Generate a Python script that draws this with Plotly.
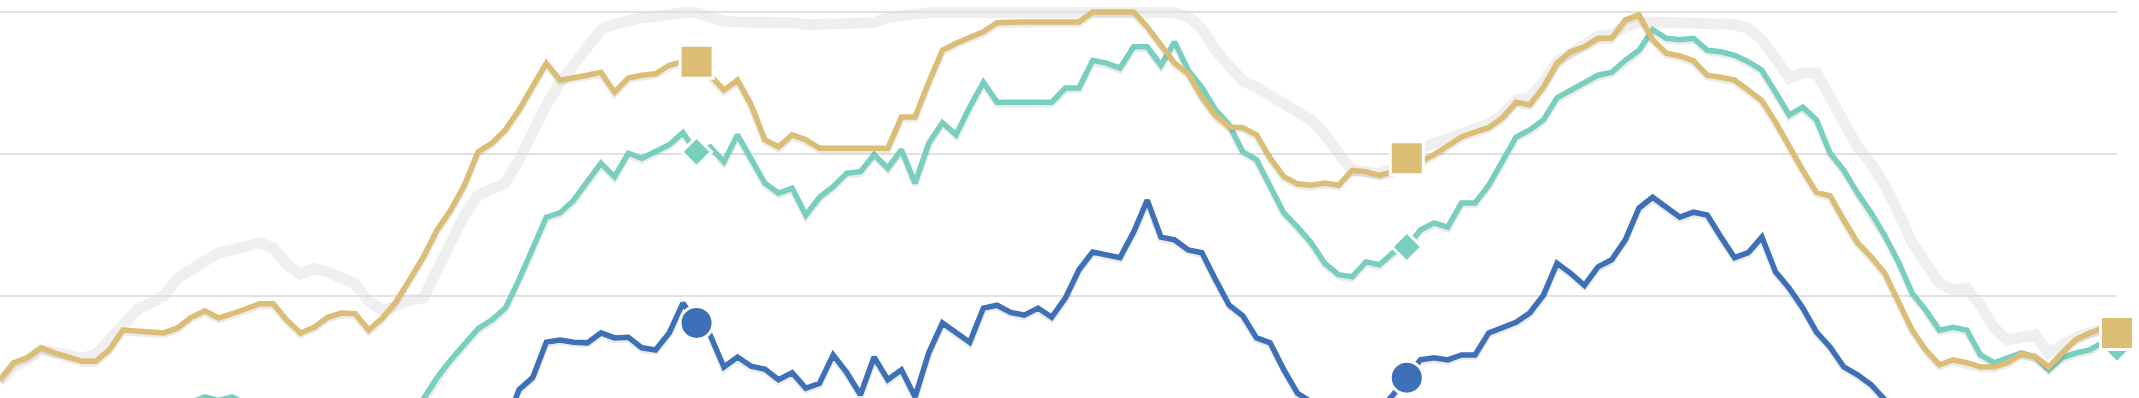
import plotly.graph_objects as go

weeks = list(range(156))
marker_weeks = [51, 103, 155]

gold = [8.2, 10.6, 11.3, 12.7, 12.0, 11.3, 10.8, 10.8, 12.4, 15.2,
        15.1, 14.9, 14.8, 15.5, 17.0, 17.9, 16.9, 17.5, 18.3, 18.9,
        18.9, 16.6, 14.8, 15.6, 17.0, 17.6, 17.5, 15.2, 16.9, 19.2,
        22.3, 25.5, 29.3, 32.1, 35.6, 40.3, 41.5, 43.4, 46.2, 49.4,
        52.8, 50.4, 50.7, 51.1, 51.5, 48.7, 50.7, 51.1, 51.3, 52.5,
        53.0, 53.0, 51.1, 49.0, 50.4, 46.9, 42.0, 41.0, 42.7, 42.0,
        40.8, 40.8, 40.8, 40.8, 40.8, 40.8, 45.2, 45.2, 50.1, 54.6,
        55.6, 56.5, 57.2, 58.5, 58.6, 58.6, 58.6, 58.6, 58.6, 58.6,
        60.0, 60.0, 60.0, 60.0, 57.9, 55.5, 52.8, 51.3, 48.0, 45.4,
        43.8, 43.7, 42.7, 39.4, 36.8, 35.8, 35.6, 35.9, 35.6, 37.7,
        37.5, 37.0, 37.5, 39.4, 38.9, 39.9, 41.1, 42.4, 43.1, 43.7,
        45.1, 47.3, 46.9, 49.4, 52.8, 54.4, 55.1, 56.3, 56.3, 58.9,
        59.6, 56.1, 54.2, 53.8, 53.1, 51.1, 50.8, 50.4, 49.0, 47.5,
        44.5, 41.0, 37.7, 34.6, 34.1, 30.7, 27.5, 25.5, 23.2, 19.2,
        15.2, 12.4, 10.3, 11.0, 10.6, 10.0, 10.0, 10.6, 11.8, 11.5,
        10.0, 12.0, 13.9, 14.8, 15.5, 14.8]

teal = [1.1, 1.8, 2.5, 3.2, 3.7, 3.9, 4.2, 4.4, 4.4, 4.6,
        4.7, 4.8, 4.6, 4.8, 5.0, 5.8, 5.3, 5.8, 4.8, 4.2,
        3.7, 2.5, 1.8, 1.1, 1.1, 1.4, 1.1, 0.4, 0.8, 1.1,
        2.5, 5.4, 8.5, 11.0, 13.1, 15.4, 16.6, 18.3, 22.3, 26.8,
        31.1, 31.7, 33.5, 36.1, 38.7, 36.8, 40.1, 39.4, 40.3, 41.3,
        43.0, 40.3, 41.0, 38.9, 42.7, 39.2, 35.9, 34.5, 35.2, 31.4,
        33.9, 35.4, 37.3, 37.5, 39.9, 38.0, 40.6, 35.9, 41.5, 44.4,
        42.7, 46.6, 50.1, 47.3, 47.3, 47.3, 47.3, 47.3, 49.3, 49.3,
        53.2, 52.8, 52.1, 55.1, 55.1, 52.5, 55.8, 51.8, 49.4, 46.2,
        44.1, 40.3, 39.2, 35.4, 31.7, 29.7, 27.5, 24.6, 23.0, 22.7,
        24.8, 24.4, 26.1, 26.9, 29.3, 30.3, 29.7, 33.1, 33.1, 35.6,
        39.2, 42.4, 43.4, 44.8, 47.9, 49.0, 50.0, 51.1, 51.5, 53.2,
        54.6, 57.5, 56.3, 56.1, 56.3, 54.6, 54.4, 53.9, 53.0, 51.8,
        48.7, 45.5, 46.6, 44.8, 40.1, 37.7, 34.5, 31.7, 28.5, 24.8,
        20.4, 18.0, 15.2, 15.6, 15.2, 11.7, 10.6, 11.3, 12.0, 11.4,
        9.6, 11.3, 12.0, 12.4, 13.5, 12.7]

blue = [1.5, 1.8, 2.2, 1.9, 1.4, 1.0, 0.8, 1.2, 1.6, 2.1,
        2.4, 2.0, 1.7, 1.5, 1.9, 2.3, 2.6, 2.2, 1.8, 1.5,
        1.3, 1.0, 0.7, 0.9, 1.2, 1.6, 1.4, 1.1, 1.5, 1.9,
        2.2, 2.6, 3.0, 3.3, 3.1, 3.6, 3.9, 1.8, 6.8, 8.5,
        13.5, 13.8, 13.5, 13.4, 14.8, 14.1, 14.2, 12.7, 12.4, 14.8,
        19.0, 16.2, 14.5, 10.0, 11.4, 10.1, 9.7, 8.2, 9.2, 7.0,
        7.7, 11.7, 9.2, 6.1, 11.4, 8.2, 9.6, 5.8, 12.0, 16.2,
        14.9, 13.5, 18.3, 18.7, 17.7, 17.3, 18.3, 17.0, 19.7, 23.7,
        26.2, 25.8, 25.4, 29.0, 33.5, 28.3, 27.9, 26.5, 26.1, 22.3,
        18.7, 17.2, 14.1, 13.4, 9.6, 6.3, 5.1, 3.9, 3.2, 2.8,
        3.2, 3.9, 6.1, 8.5, 11.0, 11.3, 11.0, 11.7, 11.7, 14.8,
        15.6, 16.3, 17.6, 20.1, 24.6, 23.2, 21.5, 24.1, 25.1, 27.9,
        32.4, 33.9, 32.5, 31.1, 31.8, 31.4, 28.3, 25.4, 26.1, 28.3,
        23.4, 21.1, 18.3, 14.9, 12.8, 10.0, 8.9, 7.5, 5.4, 3.7,
        3.0, 2.4, 1.9, 1.5, 1.2, 1.0, 0.8, 0.9, 1.1, 1.3,
        1.0, 1.4, 1.8, 2.1, 2.4, 2.6]

gray = [7.9, 10.1, 11.0, 12.4, 12.1, 11.5, 11.3, 11.7, 13.8, 16.3,
        18.0, 19.0, 20.0, 22.5, 23.7, 24.8, 26.1, 26.5, 27.2, 27.5,
        26.8, 24.4, 23.1, 23.9, 23.4, 22.7, 21.7, 19.2, 18.0, 18.6,
        19.4, 19.7, 23.4, 27.9, 31.4, 34.2, 34.9, 35.9, 39.2, 43.4,
        46.9, 50.0, 52.5, 55.4, 57.5, 58.3, 58.9, 59.2, 59.4, 59.7,
        59.9, 59.9, 59.3, 58.7, 58.6, 58.6, 58.6, 58.6, 58.5, 58.2,
        58.2, 58.2, 58.2, 58.3, 58.5, 59.2, 59.6, 59.7, 59.9, 59.9,
        59.9, 60.0, 60.0, 60.0, 60.0, 60.0, 60.0, 60.0, 60.0, 60.0,
        60.0, 60.0, 60.0, 60.0, 60.0, 60.0, 59.9, 59.4, 57.6, 54.6,
        52.7, 50.3, 49.4, 48.3, 46.9, 45.8, 44.8, 42.7, 39.9, 37.7,
        37.5, 37.2, 38.0, 39.9, 40.8, 41.5, 42.0, 43.0, 43.7, 44.2,
        45.5, 47.6, 47.9, 50.1, 53.0, 54.4, 55.4, 56.6, 56.9, 57.9,
        58.6, 58.6, 58.6, 58.6, 58.6, 58.6, 58.3, 58.2, 57.7, 56.1,
        53.5, 50.7, 51.4, 51.4, 48.0, 44.5, 41.0, 38.7, 35.6, 31.7,
        27.5, 24.6, 21.8, 20.8, 21.1, 18.7, 15.5, 13.8, 14.2, 14.5,
        12.0, 13.1, 14.1, 14.8, 15.2, 14.9]

GOLD = "#dcbd76"
TEAL = "#79cfbf"
BLUE = "#3e70b7"
GRAY = "rgba(220,220,220,0.45)"
SHADOW = "rgba(0,0,0,0.08)"

fig = go.Figure()


def add_series(values, color, symbol, size, shadow=True):
    if shadow:
        fig.add_trace(go.Scatter(
            x=weeks, y=[v - 0.3 for v in values], mode="lines",
            line=dict(color=SHADOW, width=6.5), hoverinfo="skip"))
    fig.add_trace(go.Scatter(
        x=weeks, y=values, mode="lines",
        line=dict(color=color, width=5.5)))
    if symbol:
        fig.add_trace(go.Scatter(
            x=marker_weeks, y=[values[i] for i in marker_weeks],
            mode="markers", cliponaxis=False,
            marker=dict(symbol=symbol, size=size, color=color,
                        line=dict(color="white", width=3))))


fig.add_trace(go.Scatter(x=weeks, y=gray, mode="lines",
                         line=dict(color=GRAY, width=11)))
add_series(blue, BLUE, "circle", 33)
add_series(teal, TEAL, "diamond", 23)
add_series(gold, GOLD, "square", 33)

fig.update_layout(
    width=2139, height=398,
    margin=dict(l=0, r=22, t=0, b=0),
    paper_bgcolor="white", plot_bgcolor="white",
    showlegend=False,
    xaxis=dict(range=[0, 155], showgrid=False, zeroline=False,
               showticklabels=False, showline=False),
    yaxis=dict(range=[5.634, 61.69], dtick=20, tick0=0, showgrid=True,
               gridcolor="#e2e2e2", gridwidth=2, zeroline=False,
               showticklabels=False, showline=False),
)

fig.write_html(
    "out.html",
    config={"displayModeBar": False},
    post_script="document.body.style.margin='0';"
                "document.body.style.overflow='hidden';",
)
